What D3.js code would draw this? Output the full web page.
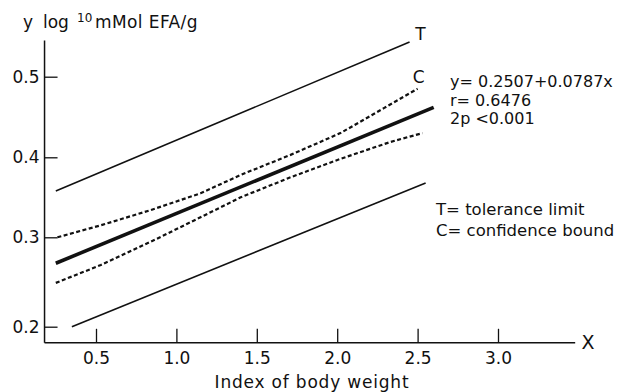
<!DOCTYPE html>
<meta charset="utf-8">
<style>
  body { margin: 0; background: #fff; }
  text { font-family: "DejaVu Sans", sans-serif; fill: #111; }
</style>
<body id="chart"></body>
<script src="https://cdn.jsdelivr.net/npm/d3@7"></script>
<script>
// chart data
var xTicks = [0.5, 1.0, 1.5, 2.0, 2.5, 3.0],
    yTicks = [0.2, 0.3, 0.4, 0.5];

var tolUpper = [[0.25, 0.358], [2.45, 0.543]],
    tolLower = [[0.35, 0.200], [2.55, 0.368]],
    regLine = [[0.25, 0.271], [2.60, 0.462]];

var confUpper = [[0.26, 0.300], [0.53, 0.315], [0.84, 0.334], [1.15, 0.355], [1.40, 0.378],
                 [1.71, 0.403], [2.02, 0.430], [2.29, 0.461], [2.50, 0.485]];
var confLower = [[0.25, 0.249], [0.53, 0.269], [0.84, 0.295], [1.15, 0.325], [1.40, 0.350],
                 [1.71, 0.375], [2.02, 0.398], [2.33, 0.419], [2.53, 0.430]];

var statLines = ["y= 0.2507+0.0787x", "r= 0.6476", "2p <0.001"];
var legendLines = ["T= tolerance limit", "C= confidence bound"];

var width = 622, height = 392;

// the hand-drawn y ticks are not evenly spaced, so follow them piecewise
var x = d3.scaleLinear().domain([0.5, 3.0]).range([96, 498]);
var y = d3.scaleLinear().domain([0.2, 0.3, 0.4, 0.5]).range([326.7, 237.3, 157.3, 76.7]);

var xMin = 0.18, xMax = 3.48, yMin = 0.182, yMax = 0.545;

var svg = d3.select("#chart").append("svg")
    .attr("width", width)
    .attr("height", height);

svg.append("rect").attr("width", width).attr("height", height).attr("fill", "#fff");

// axis lines
svg.append("line")
    .attr("x1", x(xMin)).attr("x2", x(xMin))
    .attr("y1", y(yMax)).attr("y2", y(yMin))
    .attr("stroke", "#111").attr("stroke-width", 1.5);
svg.append("line")
    .attr("x1", x(xMin)).attr("x2", x(xMax))
    .attr("y1", y(yMin)).attr("y2", y(yMin))
    .attr("stroke", "#111").attr("stroke-width", 1.6);

var yAxis = svg.append("g")
    .attr("transform", "translate(" + x(xMin) + ",0)")
    .call(d3.axisLeft(y).tickValues(yTicks).tickSize(-13).tickPadding(5).tickFormat(d3.format(".1f")));
var xAxis = svg.append("g")
    .attr("transform", "translate(0," + y(yMin) + ")")
    .call(d3.axisBottom(x).tickValues(xTicks).tickSize(-14).tickPadding(9).tickFormat(d3.format(".1f")));

[yAxis, xAxis].forEach(function (g) {
    g.select(".domain").remove();
    g.selectAll(".tick line").attr("stroke", "#111").attr("stroke-width", 1.3);
    g.selectAll(".tick text").attr("font-size", 17).attr("font-family", null).attr("fill", "#111");
});

// lines
var line = d3.line().x(function (d) { return x(d[0]); }).y(function (d) { return y(d[1]); });

svg.append("path").datum(tolUpper).attr("d", line)
    .attr("fill", "none").attr("stroke", "#111").attr("stroke-width", 1.6);
svg.append("path").datum(tolLower).attr("d", line)
    .attr("fill", "none").attr("stroke", "#111").attr("stroke-width", 1.6);
svg.append("path").datum(regLine).attr("d", line)
    .attr("fill", "none").attr("stroke", "#111").attr("stroke-width", 3.6);
[confUpper, confLower].forEach(function (c) {
    svg.append("path").datum(c).attr("d", line)
        .attr("fill", "none").attr("stroke", "#111").attr("stroke-width", 2.2)
        .attr("stroke-dasharray", "4,2.5");
});

// line labels
svg.append("text").attr("x", x(2.45) + 11).attr("y", y(0.543) - 2)
    .attr("text-anchor", "middle").attr("font-size", 17).text("T");
svg.append("text").attr("x", x(2.50) + 1).attr("y", y(0.485) - 6)
    .attr("text-anchor", "middle").attr("font-size", 17).text("C");

// axis titles
svg.append("text").attr("x", 23).attr("y", 28).attr("font-size", 17).text("y");
svg.append("text").attr("x", 43).attr("y", 28).attr("font-size", 17).text("log");
svg.append("text").attr("x", 77).attr("y", 22).attr("font-size", 12).text("10");
svg.append("text").attr("x", 95).attr("y", 28).attr("font-size", 17)
    .attr("letter-spacing", 0.4).text("mMol EFA/g");

svg.append("text").attr("x", 588).attr("y", 349)
    .attr("text-anchor", "middle").attr("font-size", 19).text("X");
svg.append("text").attr("x", 312).attr("y", 388)
    .attr("text-anchor", "middle").attr("font-size", 17)
    .attr("letter-spacing", 0.8).text("Index of body weight");

// regression statistics
svg.append("g").selectAll("text").data(statLines).enter().append("text")
    .attr("x", 450).attr("y", function (d, i) { return 87 + i * 18.5; })
    .attr("font-size", 16).text(function (d) { return d; });

svg.append("g").selectAll("text").data(legendLines).enter().append("text")
    .attr("x", 436).attr("y", function (d, i) { return 215 + i * 21; })
    .attr("font-size", 16.5).text(function (d) { return d; });
</script>
